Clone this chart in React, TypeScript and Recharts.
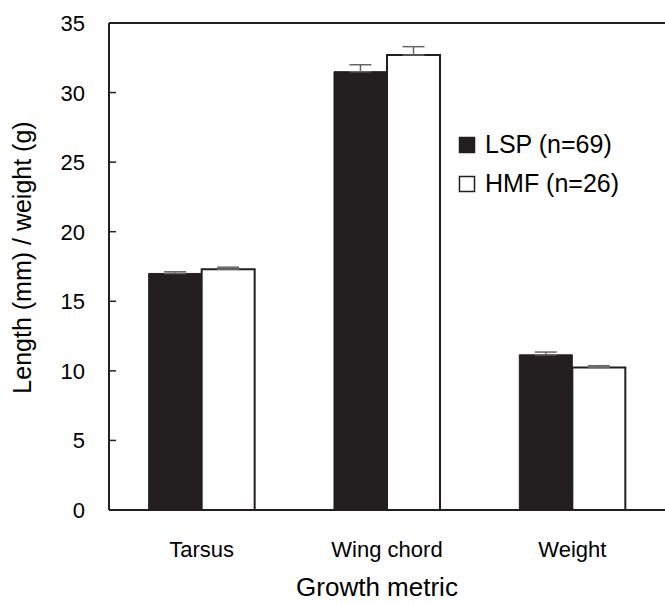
import { BarChart, Bar, XAxis, YAxis, ErrorBar, ReferenceLine } from "recharts"

const categories = ["Tarsus", "Wing chord", "Weight"]
const lspValues = [17.0, 31.5, 11.15]
const lspErrors = [0.12, 0.5, 0.2]
const hmfValues = [17.3, 32.7, 10.25]
const hmfErrors = [0.15, 0.6, 0.12]
const yTicks = [0, 5, 10, 15, 20, 25, 30, 35]
const legendItems = [
  { label: "LSP (n=69)", fill: "#231f20" },
  { label: "HMF (n=26)", fill: "#ffffff" },
]

const DARK = "#231f20"
const FONT = "'Liberation Sans', Arial, sans-serif"

const data = categories.map((name, i) => ({
  name,
  lsp: lspValues[i],
  lspErr: [0, lspErrors[i]],
  hmf: hmfValues[i],
  hmfErr: [0, hmfErrors[i]],
}))

function YTick(props: any) {
  const { x, y, payload } = props
  return (
    <g>
      <line x1={109} x2={116} y1={y} y2={y} stroke={DARK} strokeWidth={1.5} />
      <text x={x} y={y} dy={8} textAnchor="end" fill="#000" style={{ fontSize: 22, fontFamily: FONT }}>
        {payload.value}
      </text>
    </g>
  )
}

function XTick(props: any) {
  const { x, y, payload } = props
  return (
    <text x={x} y={y} dy={47} textAnchor="middle" fill="#000" style={{ fontSize: 22, fontFamily: FONT }}>
      {payload.value}
    </text>
  )
}

function XTitle(props: any) {
  const { viewBox } = props
  return (
    <text x={viewBox.x + viewBox.width / 2 - 10} y={596} textAnchor="middle" fill="#000" style={{ fontSize: 26, fontFamily: FONT }}>
      Growth metric
    </text>
  )
}

function YTitle(props: any) {
  const { viewBox } = props
  const cy = viewBox.y + viewBox.height / 2 - 9
  return (
    <text x={31} y={cy} transform={`rotate(-90 31 ${cy})`} textAnchor="middle" fill="#000" style={{ fontSize: 25, fontFamily: FONT }}>
      Length (mm) / weight (g)
    </text>
  )
}

function LegendBox() {
  return (
    <svg width={665} height={603} style={{ position: "absolute", left: 0, top: 0, pointerEvents: "none" }}>
      {legendItems.map((it, i) => {
        const base = 153 + i * 39
        return (
          <g key={it.label}>
            <rect x={459.5} y={base - 15.5} width={15} height={15} fill={it.fill} stroke={DARK} strokeWidth={1.5} />
            <text x={485} y={base} fill="#000" style={{ fontSize: 25, fontFamily: FONT }}>{it.label}</text>
          </g>
        )
      })}
    </svg>
  )
}

export default function App() {
  return (
    <div style={{ position: "absolute", left: 0, top: 0, width: 665, height: 603, background: "#fff" }}>
      <BarChart width={665} height={603} data={data} margin={{ top: 23, right: 0, bottom: 0, left: 0 }}
        barCategoryGap="21.4%" barGap={0}>
        <XAxis dataKey="name" height={93} axisLine={{ stroke: DARK, strokeWidth: 2 }} tickLine={false}
          tickSize={0} tickMargin={0} tick={<XTick />} label={<XTitle />} />
        <YAxis width={109} domain={[0, 35]} ticks={yTicks} axisLine={{ stroke: DARK, strokeWidth: 2 }}
          tickLine={false} tickSize={0} tickMargin={24} tick={<YTick />} label={<YTitle />} />
        <ReferenceLine y={35} stroke={DARK} strokeWidth={2} />
        <Bar dataKey="lsp" fill={DARK} stroke={DARK} strokeWidth={1} isAnimationActive={false}>
          <ErrorBar dataKey="lspErr" width={11} stroke="#666" strokeWidth={1.5} direction="y" />
        </Bar>
        <Bar dataKey="hmf" fill="#fff" stroke={DARK} strokeWidth={2} isAnimationActive={false}>
          <ErrorBar dataKey="hmfErr" width={11} stroke="#666" strokeWidth={1.5} direction="y" />
        </Bar>
      </BarChart>
      <LegendBox />
    </div>
  )
}
